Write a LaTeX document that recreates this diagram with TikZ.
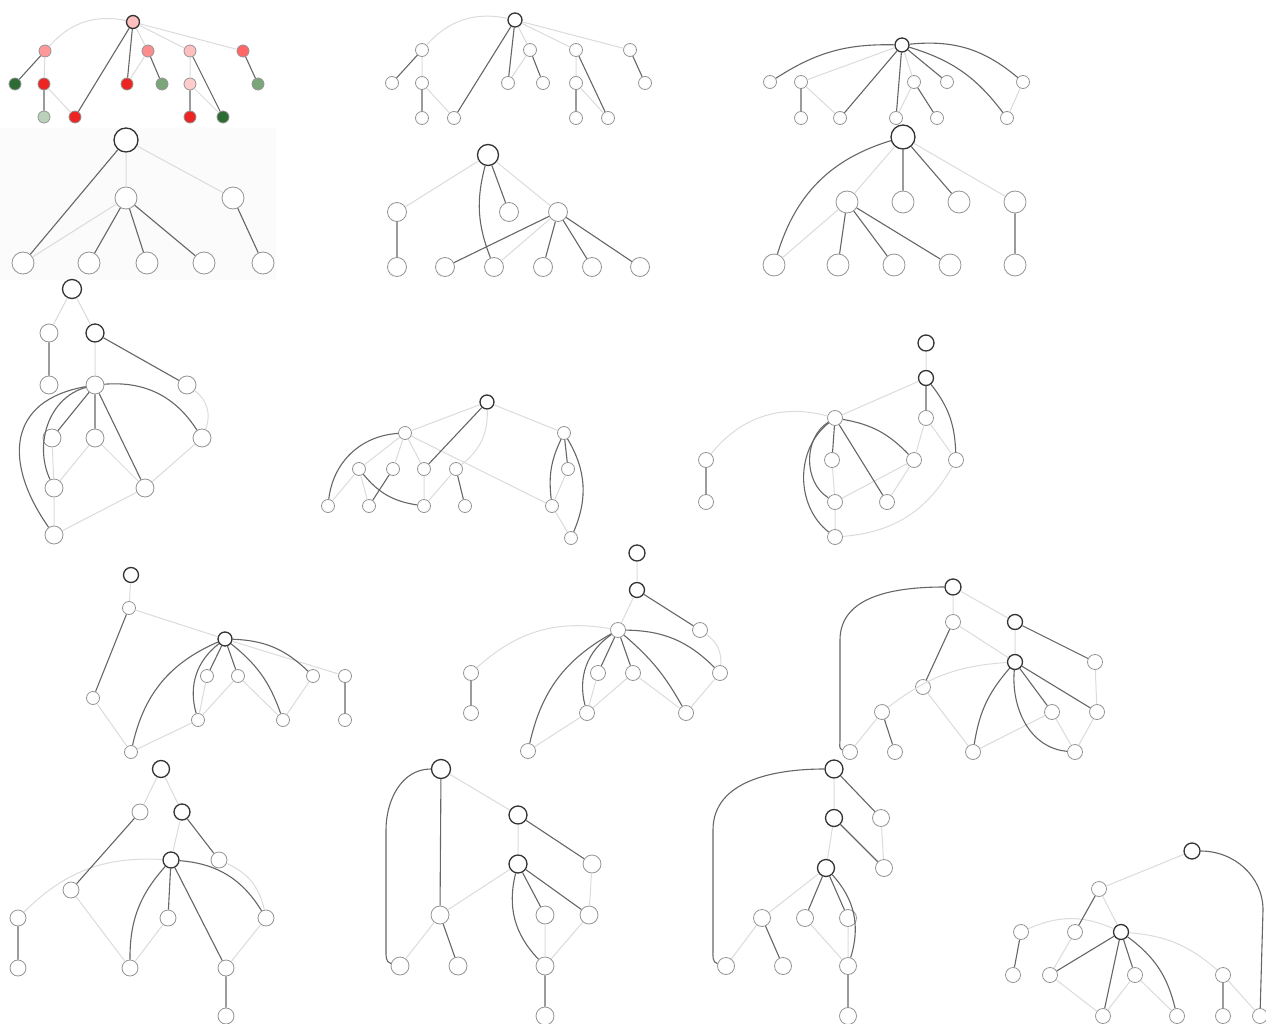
\documentclass[tikz,border=0pt]{standalone}
\usepackage{tikz}
\usetikzlibrary{positioning}

\definecolor{brred}{RGB}{236,36,36}
\definecolor{dkgreen}{RGB}{44,108,52}
\definecolor{midgreen}{RGB}{122,166,122}
\definecolor{palegreen}{RGB}{186,210,186}

\begin{document}
\begin{tikzpicture}[
  x=1pt, y=-1pt,
  vtx/.style={circle, draw=black!42, line width=0.8pt, fill=white, inner sep=0pt, minimum size=#1},
  vtx/.default=14pt,
  rootv/.style={vtx=#1, draw=black!80, line width=1.3pt},
  rootv/.default=15pt,
  tree/.style={draw=black!60, line width=1.1pt},
  cross/.style={draw=black!14, line width=1pt}
]
\useasboundingbox (0,0) rectangle (1266,1024);
\fill[black!1.5] (0,128) rectangle (276,280);

% top left, coloured
\node[rootv=13pt, fill=red!25] (g1r) at (133,22) {};
\node[vtx=12pt, fill=red!40] (g1a) at (45,51) {};
\node[vtx=12pt, fill=red!45] (g1b) at (148,51) {};
\node[vtx=12pt, fill=red!25] (g1c) at (190,51) {};
\node[vtx=12pt, fill=red!60] (g1d) at (243,51) {};
\node[vtx=12pt, fill=dkgreen] (g1e) at (15,84) {};
\node[vtx=12pt, fill=brred] (g1f) at (44,84) {};
\node[vtx=12pt, fill=brred] (g1g) at (127,84) {};
\node[vtx=12pt, fill=midgreen] (g1h) at (162,84) {};
\node[vtx=12pt, fill=red!20] (g1i) at (190,84) {};
\node[vtx=12pt, fill=midgreen] (g1j) at (258,84) {};
\node[vtx=12pt, fill=palegreen] (g1k) at (44,117) {};
\node[vtx=12pt, fill=brred] (g1l) at (75,117) {};
\node[vtx=12pt, fill=brred] (g1m) at (190,117) {};
\node[vtx=12pt, fill=dkgreen] (g1n) at (223,117) {};
\draw[cross] (g1r) to[bend right=30] (g1a);
\draw[cross] (g1r) -- (g1b) (g1r) -- (g1c) (g1r) -- (g1d) (g1a) -- (g1f) (g1f) -- (g1l)
  (g1b) -- (g1g) (g1c) -- (g1i) (g1i) -- (g1n);
\draw[tree] (g1r) -- (g1l) (g1r) -- (g1g) (g1a) -- (g1e) (g1f) -- (g1k) (g1b) -- (g1h)
  (g1c) -- (g1n) (g1i) -- (g1m) (g1d) -- (g1j);

% top middle
\node[rootv=14pt] (g2r) at (515,20) {};
\node[vtx=13pt] (g2a) at (422,50) {};
\node[vtx=13pt] (g2b) at (530,50) {};
\node[vtx=13pt] (g2c) at (576,50) {};
\node[vtx=13pt] (g2d) at (630,50) {};
\node[vtx=13pt] (g2e) at (392,83) {};
\node[vtx=13pt] (g2f) at (422,83) {};
\node[vtx=13pt] (g2g) at (508,83) {};
\node[vtx=13pt] (g2h) at (543,83) {};
\node[vtx=13pt] (g2i) at (576,83) {};
\node[vtx=13pt] (g2j) at (645,83) {};
\node[vtx=13pt] (g2k) at (422,118) {};
\node[vtx=13pt] (g2l) at (454,118) {};
\node[vtx=13pt] (g2m) at (576,118) {};
\node[vtx=13pt] (g2n) at (608,118) {};
\draw[cross] (g2r) to[bend right=30] (g2a);
\draw[cross] (g2r) -- (g2b) (g2r) -- (g2c) (g2r) -- (g2d) (g2a) -- (g2f) (g2f) -- (g2l)
  (g2b) -- (g2g) (g2c) -- (g2i) (g2i) -- (g2n);
\draw[tree] (g2r) -- (g2l) (g2r) -- (g2g) (g2a) -- (g2e) (g2f) -- (g2k) (g2b) -- (g2h)
  (g2c) -- (g2n) (g2i) -- (g2m) (g2d) -- (g2j);

% top right
\node[rootv=14pt] (g3r) at (902,45) {};
\node[vtx=13pt] (g3a) at (770,82) {};
\node[vtx=13pt] (g3b) at (801,82) {};
\node[vtx=13pt] (g3c) at (914,82) {};
\node[vtx=13pt] (g3d) at (947,82) {};
\node[vtx=13pt] (g3e) at (1023,82) {};
\node[vtx=13pt] (g3f) at (801,118) {};
\node[vtx=13pt] (g3g) at (840,118) {};
\node[vtx=13pt] (g3h) at (896,118) {};
\node[vtx=13pt] (g3i) at (937,118) {};
\node[vtx=13pt] (g3j) at (1007,118) {};
\draw[cross] (g3r) -- (g3b) (g3r) -- (g3c) (g3b) -- (g3g) (g3c) -- (g3h) (g3e) -- (g3j);
\draw[tree] (g3r) to[bend right=17] (g3a);
\draw[tree] (g3r) to[bend left=23] (g3e);
\draw[tree] (g3r) to[bend left=18] (g3j);
\draw[tree] (g3r) -- (g3g) (g3r) -- (g3h) (g3r) -- (g3d) (g3b) -- (g3f) (g3c) -- (g3i);

% second row left
\node[rootv=24pt] (g4r) at (126,140) {};
\node[vtx=22pt] (g4a) at (126,198) {};
\node[vtx=22pt] (g4b) at (233,198) {};
\node[vtx=22pt] (g4c) at (23,263) {};
\node[vtx=22pt] (g4d) at (89,263) {};
\node[vtx=22pt] (g4e) at (147,263) {};
\node[vtx=22pt] (g4f) at (204,263) {};
\node[vtx=22pt] (g4g) at (263,263) {};
\draw[cross] (g4r) -- (g4a) (g4r) -- (g4b) (g4a) -- (g4c);
\draw[tree] (g4r) -- (g4c) (g4a) -- (g4d) (g4a) -- (g4e) (g4a) -- (g4f) (g4b) -- (g4g);

% second row middle
\node[rootv=21pt] (g5r) at (488,155) {};
\node[vtx=19pt] (g5a) at (397,212) {};
\node[vtx=19pt] (g5b) at (509,212) {};
\node[vtx=19pt] (g5c) at (558,212) {};
\node[vtx=19pt] (g5d) at (397,267) {};
\node[vtx=19pt] (g5e) at (445,267) {};
\node[vtx=19pt] (g5f) at (494,267) {};
\node[vtx=19pt] (g5g) at (543,267) {};
\node[vtx=19pt] (g5h) at (592,267) {};
\node[vtx=19pt] (g5i) at (640,267) {};
\draw[cross] (g5r) -- (g5a) (g5r) -- (g5c) (g5c) -- (g5f);
\draw[tree] (g5r) to[bend right=18] (g5f);
\draw[tree] (g5r) -- (g5b) (g5a) -- (g5d) (g5c) -- (g5e) (g5c) -- (g5g) (g5c) -- (g5h) (g5c) -- (g5i);

% second row right
\node[rootv=24pt] (g6r) at (903,137) {};
\node[vtx=22pt] (g6a) at (847,202) {};
\node[vtx=22pt] (g6b) at (903,202) {};
\node[vtx=22pt] (g6c) at (959,202) {};
\node[vtx=22pt] (g6d) at (1015,202) {};
\node[vtx=22pt] (g6e) at (774,265) {};
\node[vtx=22pt] (g6f) at (838,265) {};
\node[vtx=22pt] (g6g) at (894,265) {};
\node[vtx=22pt] (g6h) at (950,265) {};
\node[vtx=22pt] (g6i) at (1015,265) {};
\draw[cross] (g6r) -- (g6a) (g6r) -- (g6d) (g6a) -- (g6e);
\draw[tree] (g6r) to[bend right=28] (g6e);
\draw[tree] (g6r) -- (g6b) (g6r) -- (g6c) (g6a) -- (g6f) (g6a) -- (g6g) (g6a) -- (g6h) (g6d) -- (g6i);

% third row left
\node[rootv=19pt] (g7r) at (72,289) {};
\node[vtx=18pt] (g7a) at (49,333) {};
\node[rootv=18pt] (g7b) at (95,333) {};
\node[vtx=18pt] (g7c) at (49,385) {};
\node[vtx=18pt] (g7d) at (95,385) {};
\node[vtx=18pt] (g7e) at (187,385) {};
\node[vtx=18pt] (g7f) at (52,438) {};
\node[vtx=18pt] (g7g) at (95,438) {};
\node[vtx=18pt] (g7h) at (202,438) {};
\node[vtx=18pt] (g7i) at (54,488) {};
\node[vtx=18pt] (g7j) at (145,488) {};
\node[vtx=18pt] (g7k) at (54,535) {};
\draw[cross] (g7r) -- (g7a) (g7r) -- (g7b) (g7b) -- (g7d) (g7f) -- (g7i) (g7g) -- (g7i)
  (g7g) -- (g7j) (g7h) -- (g7j) (g7i) -- (g7k) (g7j) -- (g7k);
\draw[cross] (g7e) to[bend left=38] (g7h);
\draw[tree] (g7a) -- (g7c) (g7b) -- (g7e) (g7d) -- (g7f) (g7d) -- (g7g) (g7d) -- (g7j);
\draw[tree] (g7d) to[bend left=31] (g7h);
\draw[tree] (g7d) to[out=195,in=115] (g7i);
\draw[tree] (g7d) to[out=190,in=125,looseness=1.4] (g7k);

% third row middle
\node[rootv=14pt] (g8r) at (487,402) {};
\node[vtx=13pt] (g8a) at (405,433) {};
\node[vtx=13pt] (g8b) at (564,433) {};
\node[vtx=13pt] (g8c) at (359,469) {};
\node[vtx=13pt] (g8d) at (393,469) {};
\node[vtx=13pt] (g8e) at (424,469) {};
\node[vtx=13pt] (g8f) at (456,469) {};
\node[vtx=13pt] (g8g) at (568,469) {};
\node[vtx=13pt] (g8h) at (328,506) {};
\node[vtx=13pt] (g8i) at (369,506) {};
\node[vtx=13pt] (g8j) at (424,506) {};
\node[vtx=13pt] (g8k) at (465,506) {};
\node[vtx=13pt] (g8l) at (552,506) {};
\node[vtx=13pt] (g8m) at (571,538) {};
\draw[cross] (g8r) -- (g8a) (g8r) -- (g8b) (g8a) -- (g8c) (g8a) -- (g8d) (g8a) -- (g8e)
  (g8a) -- (g8l) (g8c) -- (g8h) (g8c) -- (g8i) (g8e) -- (g8j) (g8f) -- (g8j) (g8g) -- (g8l) (g8l) -- (g8m);
\draw[cross] (g8r) to[bend left=27] (g8f);
\draw[tree] (g8r) -- (g8e) (g8d) -- (g8i) (g8f) -- (g8k) (g8b) -- (g8g);
\draw[tree] (g8a) to[bend right=40] (g8h);
\draw[tree] (g8c) to[bend right=21] (g8j);
\draw[tree] (g8b) to[bend right=16] (g8l);
\draw[tree] (g8b) to[bend left=27] (g8m);

% third row right
\node[rootv=16pt] (g9r) at (926,343) {};
\node[rootv=15pt] (g9a) at (926,378) {};
\node[vtx=15pt] (g9b) at (835,418) {};
\node[vtx=15pt] (g9c) at (926,418) {};
\node[vtx=15pt] (g9d) at (706,460) {};
\node[vtx=15pt] (g9e) at (832,460) {};
\node[vtx=15pt] (g9f) at (914,460) {};
\node[vtx=15pt] (g9g) at (956,460) {};
\node[vtx=15pt] (g9h) at (706,502) {};
\node[vtx=15pt] (g9i) at (835,502) {};
\node[vtx=15pt] (g9j) at (887,502) {};
\node[vtx=15pt] (g9k) at (835,537) {};
\draw[cross] (g9r) -- (g9a) (g9a) -- (g9b) (g9c) -- (g9f) (g9c) -- (g9g) (g9e) -- (g9i)
  (g9f) -- (g9i) (g9f) -- (g9j) (g9i) -- (g9k);
\draw[cross] (g9b) to[bend right=33] (g9d);
\draw[cross] (g9g) to[bend left=28] (g9k);
\draw[tree] (g9a) -- (g9c) (g9b) -- (g9e) (g9b) -- (g9j) (g9d) -- (g9h);
\draw[tree] (g9a) to[bend left=18] (g9g);
\draw[tree] (g9b) to[bend left=18] (g9f);
\draw[tree] (g9b) to[bend right=58] (g9i);
\draw[tree] (g9b) to[bend right=52] (g9k);

% fourth row left
\node[rootv=15pt] (g10r) at (131,575) {};
\node[vtx=13pt] (g10a) at (129,608) {};
\node[rootv=14pt] (g10b) at (225,639) {};
\node[vtx=13pt] (g10c) at (93,698) {};
\node[vtx=13pt] (g10d) at (207,676) {};
\node[vtx=13pt] (g10e) at (238,676) {};
\node[vtx=13pt] (g10f) at (313,676) {};
\node[vtx=13pt] (g10g) at (345,676) {};
\node[vtx=13pt] (g10h) at (198,720) {};
\node[vtx=13pt] (g10i) at (283,720) {};
\node[vtx=13pt] (g10j) at (345,720) {};
\node[vtx=13pt] (g10k) at (131,752) {};
\draw[cross] (g10r) -- (g10a) (g10a) -- (g10b) (g10b) -- (g10g) (g10c) -- (g10k) (g10d) -- (g10h)
  (g10e) -- (g10h) (g10e) -- (g10i) (g10f) -- (g10i) (g10h) -- (g10k);
\draw[tree] (g10a) -- (g10c) (g10b) -- (g10d) (g10b) -- (g10e) (g10g) -- (g10j);
\draw[tree] (g10b) to[bend right=27] (g10k);
\draw[tree] (g10b) to[bend right=34] (g10h);
\draw[tree] (g10b) to[bend left=16] (g10i);
\draw[tree] (g10b) to[bend left=21] (g10f);

% fourth row middle
\node[rootv=16pt] (g11r) at (637,553) {};
\node[rootv=15pt] (g11a) at (637,590) {};
\node[vtx=15pt] (g11b) at (618,630) {};
\node[vtx=15pt] (g11c) at (700,630) {};
\node[vtx=15pt] (g11d) at (471,673) {};
\node[vtx=15pt] (g11e) at (598,673) {};
\node[vtx=15pt] (g11f) at (633,673) {};
\node[vtx=15pt] (g11g) at (720,673) {};
\node[vtx=15pt] (g11h) at (471,713) {};
\node[vtx=15pt] (g11i) at (587,713) {};
\node[vtx=15pt] (g11j) at (686,713) {};
\node[vtx=15pt] (g11k) at (528,751) {};
\draw[cross] (g11r) -- (g11a) (g11a) -- (g11b) (g11e) -- (g11i) (g11f) -- (g11i) (g11f) -- (g11j)
  (g11g) -- (g11j) (g11i) -- (g11k);
\draw[cross] (g11c) to[bend left=30] (g11g);
\draw[cross] (g11b) to[bend right=26] (g11d);
\draw[tree] (g11a) -- (g11c) (g11b) -- (g11e) (g11b) -- (g11f) (g11d) -- (g11h);
\draw[tree] (g11b) to[bend right=24] (g11k);
\draw[tree] (g11b) to[bend right=35] (g11i);
\draw[tree] (g11b) to[bend left=10] (g11j);
\draw[tree] (g11b) to[bend left=22] (g11g);

% fourth row right
\node[rootv=16pt] (g12r) at (953,587) {};
\node[vtx=15pt] (g12a) at (953,622) {};
\node[rootv=15pt] (g12b) at (1015,622) {};
\node[rootv=15pt] (g12c) at (1015,662) {};
\node[vtx=15pt] (g12d) at (1095,662) {};
\node[vtx=15pt] (g12e) at (923,687) {};
\node[vtx=15pt] (g12f) at (882,712) {};
\node[vtx=15pt] (g12g) at (1052,712) {};
\node[vtx=15pt] (g12h) at (1097,712) {};
\node[vtx=15pt] (g12i) at (850,752) {};
\node[vtx=15pt] (g12j) at (895,752) {};
\node[vtx=15pt] (g12k) at (973,752) {};
\node[vtx=15pt] (g12l) at (1075,752) {};
\draw[cross] (g12r) -- (g12a) (g12r) -- (g12b) (g12a) -- (g12c) (g12b) -- (g12c) (g12d) -- (g12h)
  (g12e) -- (g12k) (g12f) -- (g12i) (g12g) -- (g12k) (g12g) -- (g12l) (g12h) -- (g12l);
\draw[cross] (g12c) to[bend right=17] (g12f);
\draw[tree] (g12r) to[out=180,in=90] (840,640) -- (840,740) to[out=-90,in=165] (g12i);
\draw[tree] (g12a) -- (g12e) (g12b) -- (g12d) (g12c) -- (g12g) (g12c) -- (g12h) (g12f) -- (g12j);
\draw[tree] (g12c) to[bend right=16] (g12k);
\draw[tree] (g12c) to[out=265,in=175] (g12l);

% bottom row left
\node[rootv=17pt] (g13r) at (161,769) {};
\node[vtx=16pt] (g13a) at (140,812) {};
\node[rootv=16pt] (g13b) at (182,812) {};
\node[vtx=16pt] (g13c) at (71,890) {};
\node[rootv=16pt] (g13d) at (171,860) {};
\node[vtx=16pt] (g13e) at (219,860) {};
\node[vtx=16pt] (g13f) at (18,918) {};
\node[vtx=16pt] (g13g) at (168,918) {};
\node[vtx=16pt] (g13h) at (266,918) {};
\node[vtx=16pt] (g13i) at (18,968) {};
\node[vtx=16pt] (g13j) at (130,968) {};
\node[vtx=16pt] (g13k) at (226,968) {};
\node[vtx=16pt] (g13l) at (226,1016) {};
\draw[cross] (g13r) -- (g13a) (g13r) -- (g13b) (g13b) -- (g13d) (g13c) -- (g13j) (g13g) -- (g13j)
  (g13h) -- (g13k);
\draw[cross] (g13d) to[bend right=24] (g13f);
\draw[cross] (g13e) to[bend left=27] (g13h);
\draw[tree] (g13a) -- (g13c) (g13b) -- (g13e) (g13d) -- (g13g) (g13d) -- (g13k) (g13f) -- (g13i)
  (g13k) -- (g13l);
\draw[tree] (g13d) to[bend right=21] (g13j);
\draw[tree] (g13d) to[bend left=27] (g13h);

% bottom row middle left
\node[rootv=19pt] (g14r) at (441,769) {};
\node[rootv=18pt] (g14a) at (518,815) {};
\node[rootv=18pt] (g14b) at (518,864) {};
\node[vtx=18pt] (g14c) at (592,864) {};
\node[vtx=18pt] (g14d) at (440,915) {};
\node[vtx=18pt] (g14e) at (545,915) {};
\node[vtx=18pt] (g14f) at (589,915) {};
\node[vtx=18pt] (g14g) at (400,966) {};
\node[vtx=18pt] (g14h) at (458,966) {};
\node[vtx=18pt] (g14i) at (545,966) {};
\node[vtx=18pt] (g14j) at (545,1016) {};
\draw[cross] (g14r) -- (g14a) (g14a) -- (g14b) (g14c) -- (g14f) (g14b) -- (g14d) (g14d) -- (g14g)
  (g14e) -- (g14i) (g14f) -- (g14i);
\draw[tree] (g14r) to[out=180,in=90] (386,830) -- (386,950) to[out=-90,in=165] (g14g);
\draw[tree] (g14r) -- (g14d) (g14a) -- (g14c) (g14b) -- (g14e) (g14b) -- (g14f) (g14d) -- (g14h)
  (g14i) -- (g14j);
\draw[tree] (g14b) to[bend right=29] (g14i);

% bottom row middle right
\node[rootv=18pt] (g15r) at (834,769) {};
\node[rootv=17pt] (g15a) at (834,818) {};
\node[vtx=17pt] (g15b) at (881,818) {};
\node[rootv=17pt] (g15c) at (826,868) {};
\node[vtx=17pt] (g15d) at (884,868) {};
\node[vtx=17pt] (g15e) at (762,918) {};
\node[vtx=17pt] (g15f) at (805,918) {};
\node[vtx=17pt] (g15g) at (848,918) {};
\node[vtx=17pt] (g15h) at (726,966) {};
\node[vtx=17pt] (g15i) at (783,966) {};
\node[vtx=17pt] (g15j) at (848,966) {};
\node[vtx=17pt] (g15k) at (848,1016) {};
\draw[cross] (g15r) -- (g15a) (g15a) -- (g15c) (g15b) -- (g15d) (g15c) -- (g15e) (g15e) -- (g15h)
  (g15f) -- (g15j) (g15g) -- (g15j);
\draw[tree] (g15r) to[out=180,in=90] (713,830) -- (713,950) to[out=-90,in=165] (g15h);
\draw[tree] (g15r) -- (g15b) (g15a) -- (g15d) (g15c) -- (g15f) (g15c) -- (g15g) (g15e) -- (g15i)
  (g15j) -- (g15k);
\draw[tree] (g15c) to[bend left=30] (g15j);

% bottom row right
\node[rootv=16pt] (g16r) at (1192,851) {};
\node[vtx=15pt] (g16a) at (1099,889) {};
\node[vtx=15pt] (g16b) at (1021,932) {};
\node[vtx=15pt] (g16c) at (1075,932) {};
\node[rootv=15pt] (g16d) at (1121,932) {};
\node[vtx=15pt] (g16e) at (1013,975) {};
\node[vtx=15pt] (g16f) at (1050,975) {};
\node[vtx=15pt] (g16g) at (1135,975) {};
\node[vtx=15pt] (g16h) at (1223,975) {};
\node[vtx=15pt] (g16i) at (1103,1016) {};
\node[vtx=15pt] (g16j) at (1177,1016) {};
\node[vtx=15pt] (g16k) at (1223,1016) {};
\node[vtx=15pt] (g16l) at (1260,1016) {};
\draw[cross] (g16r) -- (g16a) (g16a) -- (g16d) (g16c) -- (g16f) (g16f) -- (g16i) (g16g) -- (g16i)
  (g16g) -- (g16j) (g16h) -- (g16l);
\draw[cross] (g16d) to[bend right=24] (g16b);
\draw[cross] (g16d) to[bend left=18] (g16h);
\draw[tree] (g16r) to[out=0,in=90] (1263,910) -- (g16l);
\draw[tree] (g16a) -- (g16c) (g16d) -- (g16f) (g16d) -- (g16i) (g16d) -- (g16g) (g16b) -- (g16e)
  (g16h) -- (g16k);
\draw[tree] (g16d) to[bend left=20] (g16j);
\end{tikzpicture}
\end{document}
